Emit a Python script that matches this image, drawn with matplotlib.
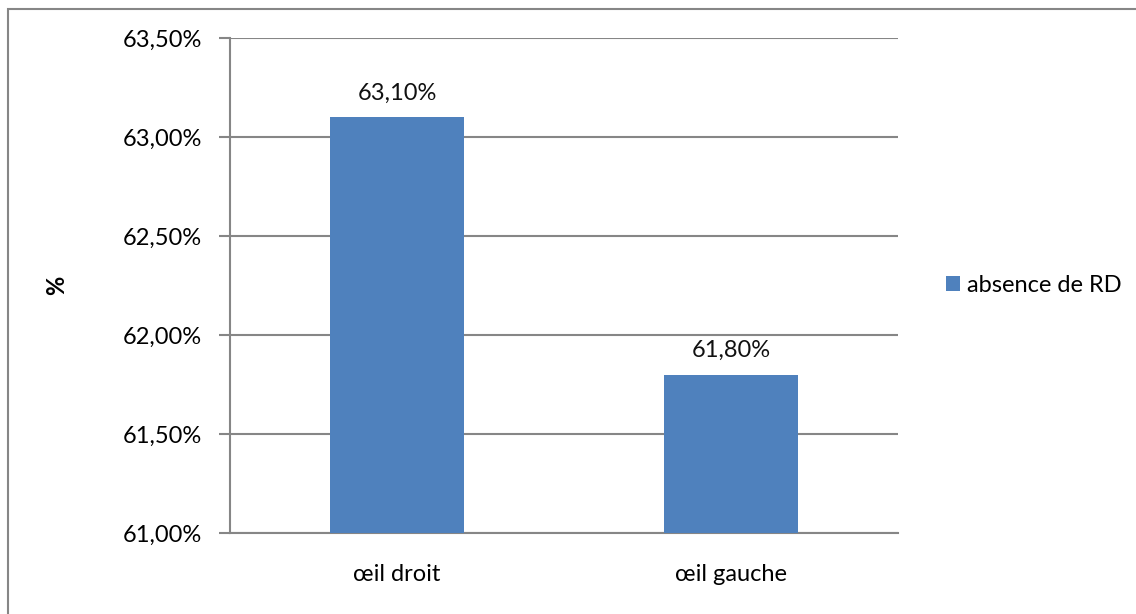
import matplotlib.pyplot as plt
from matplotlib.patches import Rectangle

categories = ["œil droit", "œil gauche"]
values = [63.10, 61.80]
series_name = "absence de RD"
yticks = [61.0, 61.5, 62.0, 62.5, 63.0, 63.5]

plt.rcParams['font.family'] = ['Lato', 'DejaVu Sans']
grey = '#868686'
blue = '#4F81BD'
fs = 17

fig = plt.figure(figsize=(11.36, 6.14), dpi=100)
ax = fig.add_axes([0.2025, 0.1319, 0.588, 0.8062])

x = range(len(categories))
bars = ax.bar(x, [v - yticks[0] for v in values], bottom=yticks[0], width=0.4,
              color=blue, label=series_name, zorder=3)

for xi, v in zip(x, values):
    ax.text(xi, v + 0.07, ('%.2f%%' % v).replace('.', ','), ha='center', va='bottom',
            fontsize=fs, color='#111111')

ax.set_xlim(-0.5, 1.5)
ax.set_ylim(yticks[0], yticks[-1])
ax.set_yticks(yticks)
ax.set_yticklabels([('%.2f%%' % t).replace('.', ',') for t in yticks], fontsize=fs)
ax.set_xticks(list(x))
ax.set_xticklabels(categories, fontsize=fs)
ax.tick_params(axis='x', length=0, pad=22)
ax.tick_params(axis='y', length=8, width=1.5, color=grey, pad=12)
ax.yaxis.grid(True, color=grey, linewidth=1.5, zorder=0)
for s in ['top', 'right']:
    ax.spines[s].set_visible(False)
for s in ['left', 'bottom']:
    ax.spines[s].set_color(grey)
    ax.spines[s].set_linewidth(1.5)

ax.set_ylabel('%', fontsize=fs, fontweight='bold')
ax.yaxis.set_label_coords(-0.243, 0.5)

ax.legend(loc='center left', bbox_to_anchor=(1.04, 0.5), frameon=False, fontsize=fs,
          handlelength=0.6, handleheight=0.6, handletextpad=0.3)

# outer chart frame
fig.patches.append(Rectangle((8 / 1136, -0.01), 1.02, (614 - 9) / 614 + 0.01,
                             transform=fig.transFigure, fill=False,
                             edgecolor=grey, linewidth=1.5))

fig.savefig('out.png', dpi=100)
